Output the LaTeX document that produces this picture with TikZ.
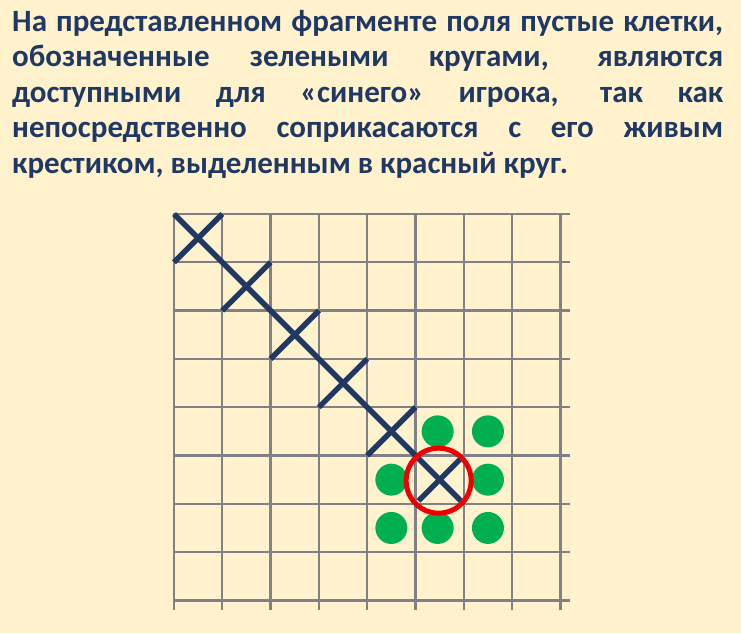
\documentclass[tikz,border=0pt]{standalone}
\usepackage{fontspec}
\newfontfamily\notefont{Carlito}
\usetikzlibrary{matrix}
\definecolor{paper}{RGB}{255,242,204}
\definecolor{ink}{RGB}{31,56,100}
\definecolor{rule}{RGB}{128,128,136}
\definecolor{freecell}{RGB}{0,176,80}
\definecolor{alive}{RGB}{236,0,0}
\tikzset{
  gridline/.style={draw=rule,line width=2.3pt},
  crossline/.style={draw=ink,line width=5.4pt},
  freedot/.style={circle,fill=freecell,minimum size=32pt,inner sep=0pt},
  ring/.style={circle,draw=alive,line width=5pt,minimum size=65pt,inner sep=0pt}
}
\def\Field{
    \matrix (field)
    [matrix of nodes,
    nodes in empty cells,
    ampersand replacement=\&,
    anchor=north west,
    inner sep=0pt,
    outer sep=0pt,
    column sep={-2.3pt},
    row sep={-2.3pt},
    nodes={outer sep=0pt,inner sep=0pt,minimum size=48.3pt,draw=rule,line width=2.3pt,rectangle} ]
    at (172.85pt,-212.85pt)
    {
     \& \& \& \& \& \& \& \\
     \& \& \& \& \& \& \& \\
     \& \& \& \& \& \& \& \\
     \& \& \& \& \& \& \& \\
     \& \& \& \& \& \& \& \\
     \& \& \& \& \& \& \& \\
     \& \& \& \& \& \& \& \\
     \& \& \& \& \& \& \& \\
};
}
\newcommand\notesetup{\notefont\bfseries\fontsize{31}{35.5}\selectfont
  \hyphenpenalty=10000\relax\tolerance=10000\relax}

\begin{document}
\begin{tikzpicture}
    \fill[paper] (0pt,0pt) rectangle (741pt,-633pt);
    \useasboundingbox (0pt,0pt) rectangle (741pt,-633pt);

    \node[anchor=base west,inner sep=0pt,text width=711pt,align=justify,text=ink,
      font=\notesetup]
      (note) at (12pt,-31pt)
      {На представленном фрагменте поля пустые клетки,\linebreak
       обозначенные зелеными кругами, являются\linebreak
       доступными для «синего» игрока, так как\linebreak
       непосредственно соприкасаются с его живым\linebreak
       крестиком, выделенным в красный круг.};

    \Field
    \foreach \r in {1,...,8}
      \draw[gridline] (field-\r-8.north east) -- ++(10pt,0pt);
    \draw[gridline] (field-8-8.south east) -- ++(10pt,0pt);
    \foreach \c in {1,...,8}
      \draw[gridline] (field-8-\c.south west) -- ++(0pt,-10pt);
    \draw[gridline] (field-8-8.south east) -- ++(0pt,-10pt);

    \draw[crossline] (field-1-1.north west) -- ([shift={(-3pt,3pt)}]field-6-6.south east);
    \draw[crossline] (field-1-1.south west) -- (field-1-1.north east);
    \draw[crossline] (field-2-2.south west) -- (field-2-2.north east);
    \draw[crossline] (field-3-3.south west) -- (field-3-3.north east);
    \draw[crossline] (field-4-4.south west) -- (field-4-4.north east);
    \draw[crossline] (field-5-5.south west) -- (field-5-5.north east);
    \draw[crossline] ([shift={(3pt,3pt)}]field-6-6.south west) -- ([shift={(-3pt,-3pt)}]field-6-6.north east);

    \node[freedot] (free-56) at ([xshift=-2pt]field-5-6) {};
    \node[freedot] (free-57) at (field-5-7) {};
    \node[freedot] (free-65) at (field-6-5) {};
    \node[freedot] (free-67) at (field-6-7) {};
    \node[freedot] (free-75) at (field-7-5) {};
    \node[freedot] (free-76) at ([xshift=-2pt]field-7-6) {};
    \node[freedot] (free-77) at (field-7-7) {};

    \node[ring] (live) at ([shift={(-1pt,-1pt)}]field-6-6) {};
\end{tikzpicture}
\end{document}
